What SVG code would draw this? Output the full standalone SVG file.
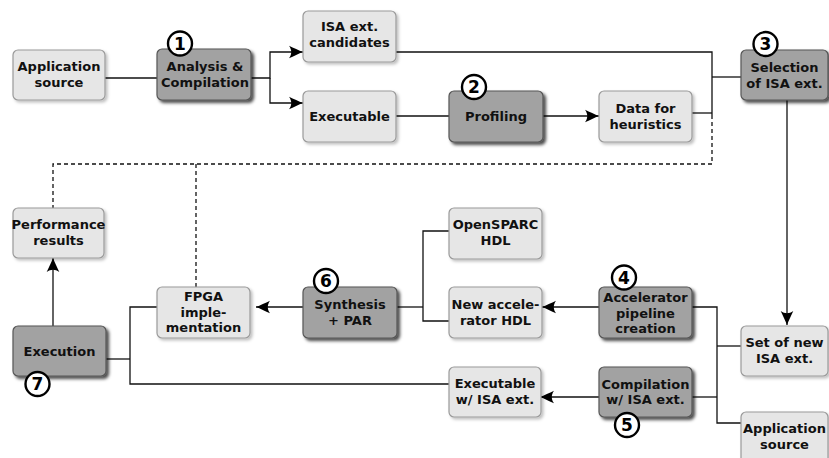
<svg xmlns="http://www.w3.org/2000/svg" width="829" height="458" viewBox="0 0 829 458">
  <defs>
    <filter id="shadowDark" x="-10%" y="-10%" width="130%" height="140%">
      <feDropShadow dx="2.5" dy="2.5" stdDeviation="1.5" flood-color="#000" flood-opacity="0.7"/>
    </filter>
    <filter id="shadowLight" x="-10%" y="-10%" width="130%" height="140%">
      <feDropShadow dx="2" dy="2" stdDeviation="1.5" flood-color="#000" flood-opacity="0.25"/>
    </filter>
    <marker id="arrow" viewBox="-15 -7 17 14" refX="0" refY="0" markerWidth="17" markerHeight="14" markerUnits="userSpaceOnUse" orient="auto">
      <path d="M0,0 C-4,-1.5 -9.5,-4.2 -14,-6.3 C-11,-2 -11,2 -14,6.3 C-9.5,4.2 -4,1.5 0,0 Z" fill="#000"/>
    </marker>
  </defs>
  <style>
    .light { fill: #e6e6e6; stroke: #9a9a9a; stroke-width: 1.2; filter: url(#shadowLight); }
    .dark { fill: #a2a2a2; stroke: #555; stroke-width: 1.2; filter: url(#shadowDark); }
    .lbl { font-family: "DejaVu Sans", "Liberation Sans", sans-serif; font-weight: bold; font-size: 13px; fill: #111; text-anchor: middle; }
    .num circle { fill: #fff; stroke: #000; stroke-width: 2.4; }
    .num text { font-family: "DejaVu Sans", "Liberation Sans", sans-serif; font-weight: bold; font-size: 17px; fill: #000; text-anchor: middle; }
    .wire { fill: none; stroke: #111; stroke-width: 1.3; }
    .arr { marker-end: url(#arrow); }
    .dash { fill: none; stroke: #111; stroke-width: 1.3; stroke-dasharray: 4 3; }
  </style>

  <!-- connectors -->
  <g id="connectors">
    <path class="wire" d="M105,78 H157"/>
    <path class="wire arr" d="M251,78 H270 V52 H303"/>
    <path class="wire arr" d="M270,78 V103 H303"/>
    <path class="wire" d="M396,52 H712 V115"/>
    <path class="wire" d="M712,77 H741"/>
    <path class="wire" d="M396,116 H449"/>
    <path class="wire arr" d="M543,116 H599"/>
    <path class="wire" d="M692,113 H712"/>
    <path class="dash" d="M712,115 V164 H53 V208"/>
    <path class="dash" d="M196,164 V287"/>
    <path class="wire arr" d="M787,100 V325"/>
    <path class="wire" d="M741,346 H717"/>
    <path class="wire" d="M692,307 H717 V423 H741"/>
    <path class="wire" d="M692,397 H717"/>
    <path class="wire arr" d="M599,307 H542"/>
    <path class="wire" d="M449,231 H423 V321 H449"/>
    <path class="wire" d="M397,307 H423"/>
    <path class="wire arr" d="M303,307 H256"/>
    <path class="wire arr" d="M599,397 H540"/>
    <path class="wire" d="M449,384 H130 V307 H157"/>
    <path class="wire" d="M106,359 H130"/>
    <path class="wire arr" d="M53,326 V258"/>
  </g>

  <!-- nodes -->
  <g id="app-source">
    <rect class="light" x="13" y="50" width="92" height="50" rx="5"/>
    <text class="lbl"><tspan x="59" y="71">Application</tspan><tspan x="59" y="86.5">source</tspan></text>
  </g>
  <g id="analysis">
    <rect class="dark" x="157" y="49" width="94" height="51" rx="5"/>
    <text class="lbl"><tspan x="205" y="71">Analysis &amp;</tspan><tspan x="205" y="86.5">Compilation</tspan></text>
  </g>
  <g id="isa-candidates">
    <rect class="light" x="303" y="11" width="93" height="51" rx="5"/>
    <text class="lbl"><tspan x="349.5" y="31">ISA ext.</tspan><tspan x="349.5" y="46.5">candidates</tspan></text>
  </g>
  <g id="executable">
    <rect class="light" x="303" y="91" width="93" height="51" rx="5"/>
    <text class="lbl"><tspan x="349.5" y="121">Executable</tspan></text>
  </g>
  <g id="profiling">
    <rect class="dark" x="449" y="91" width="94" height="51" rx="5"/>
    <text class="lbl"><tspan x="496" y="121">Profiling</tspan></text>
  </g>
  <g id="heuristics">
    <rect class="light" x="599" y="91" width="93" height="51" rx="5"/>
    <text class="lbl"><tspan x="645.5" y="113">Data for</tspan><tspan x="645.5" y="128.5">heuristics</tspan></text>
  </g>
  <g id="selection">
    <rect class="dark" x="741" y="50" width="87" height="50" rx="5"/>
    <text class="lbl"><tspan x="784.5" y="72">Selection</tspan><tspan x="784.5" y="87.5">of ISA ext.</tspan></text>
  </g>
  <g id="perf-results">
    <rect class="light" x="13" y="208" width="91" height="50" rx="5"/>
    <text class="lbl"><tspan x="58.5" y="229">Performance</tspan><tspan x="58.5" y="244.5">results</tspan></text>
  </g>
  <g id="opensparc">
    <rect class="light" x="449" y="208" width="93" height="51" rx="5"/>
    <text class="lbl"><tspan x="495.5" y="229">OpenSPARC</tspan><tspan x="495.5" y="244.5">HDL</tspan></text>
  </g>
  <g id="fpga">
    <rect class="light" x="157" y="287" width="93" height="51" rx="5"/>
    <text class="lbl"><tspan x="203.5" y="301">FPGA</tspan><tspan x="203.5" y="316.5">imple-</tspan><tspan x="203.5" y="332">mentation</tspan></text>
  </g>
  <g id="synthesis">
    <rect class="dark" x="303" y="287" width="94" height="51" rx="5"/>
    <text class="lbl"><tspan x="350" y="309">Synthesis</tspan><tspan x="350" y="324.5">+ PAR</tspan></text>
  </g>
  <g id="new-accel">
    <rect class="light" x="449" y="287" width="93" height="51" rx="5"/>
    <text class="lbl"><tspan x="495.5" y="309">New accele-</tspan><tspan x="495.5" y="324.5">rator HDL</tspan></text>
  </g>
  <g id="accel-pipeline">
    <rect class="dark" x="599" y="287" width="93" height="51" rx="5"/>
    <text class="lbl"><tspan x="645.5" y="302">Accelerator</tspan><tspan x="645.5" y="317.5">pipeline</tspan><tspan x="645.5" y="333">creation</tspan></text>
  </g>
  <g id="execution">
    <rect class="dark" x="13" y="326" width="93" height="50" rx="5"/>
    <text class="lbl"><tspan x="59.5" y="355.5">Execution</tspan></text>
  </g>
  <g id="set-new-isa">
    <rect class="light" x="741" y="326" width="87" height="50" rx="5"/>
    <text class="lbl"><tspan x="784.5" y="347">Set of new</tspan><tspan x="784.5" y="362.5">ISA ext.</tspan></text>
  </g>
  <g id="exec-isa">
    <rect class="light" x="449" y="367" width="92" height="50" rx="5"/>
    <text class="lbl"><tspan x="495" y="388">Executable</tspan><tspan x="495" y="403.5">w/ ISA ext.</tspan></text>
  </g>
  <g id="compile-isa">
    <rect class="dark" x="599" y="367" width="93" height="50" rx="5"/>
    <text class="lbl"><tspan x="645.5" y="388.5">Compilation</tspan><tspan x="645.5" y="404">w/ ISA ext.</tspan></text>
  </g>
  <g id="app-source-2">
    <rect class="light" x="741" y="412" width="87" height="56" rx="5"/>
    <text class="lbl"><tspan x="784.5" y="433">Application</tspan><tspan x="784.5" y="448.5">source</tspan></text>
  </g>

  <!-- step numbers -->
  <g class="num" id="step1"><circle cx="180" cy="43.5" r="12"/><text x="180" y="49.5">1</text></g>
  <g class="num" id="step2"><circle cx="474" cy="87" r="12"/><text x="474" y="93">2</text></g>
  <g class="num" id="step3"><circle cx="765.5" cy="44" r="12"/><text x="765.5" y="50">3</text></g>
  <g class="num" id="step4"><circle cx="624" cy="277.5" r="12"/><text x="624" y="283.5">4</text></g>
  <g class="num" id="step5"><circle cx="627" cy="425" r="12"/><text x="627" y="431">5</text></g>
  <g class="num" id="step6"><circle cx="326" cy="281" r="12"/><text x="326" y="287">6</text></g>
  <g class="num" id="step7"><circle cx="37.5" cy="384" r="12"/><text x="37.5" y="390">7</text></g>
</svg>
